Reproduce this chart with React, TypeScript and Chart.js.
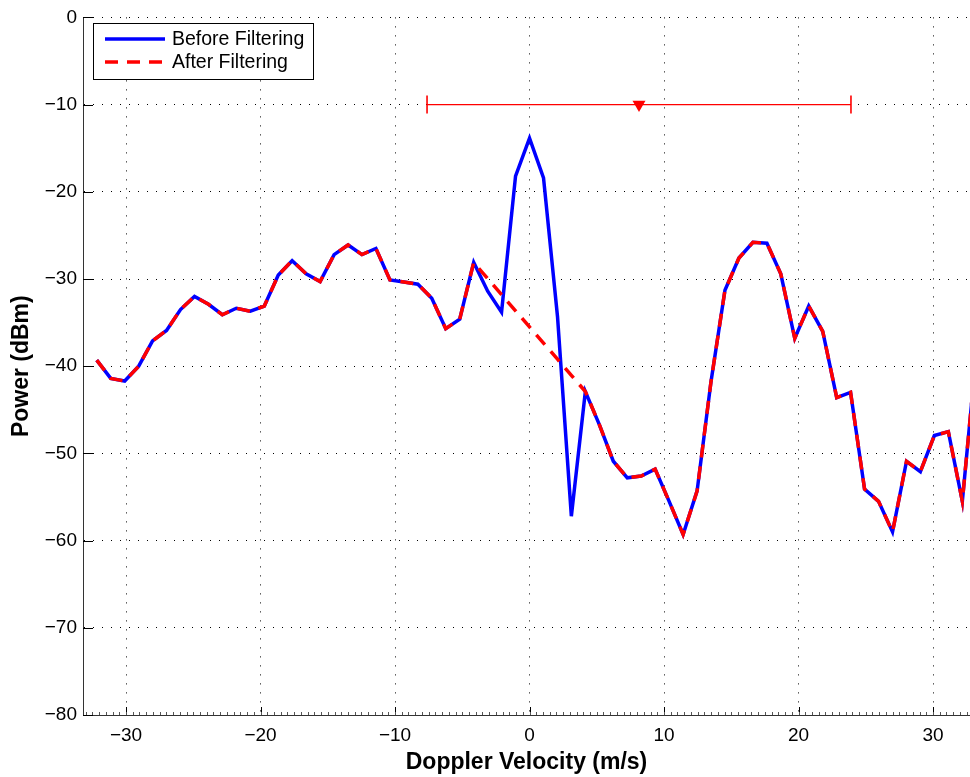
import { useEffect, useRef } from 'react';
import { Chart, registerables } from 'chart.js';

Chart.register(...registerables);

// Doppler velocity bins (m/s)
const velocities = [
  -32.18, -31.14, -30.10, -29.06, -28.03, -26.99, -25.95, -24.91, -23.87, -22.84,
  -21.80, -20.76, -19.72, -18.68, -17.65, -16.61, -15.57, -14.53, -13.49, -12.46,
  -11.42, -10.38, -9.34, -8.30, -7.27, -6.23, -5.19, -4.15, -3.11, -2.08,
  -1.04, 0, 1.04, 2.08, 3.11, 4.15, 5.19, 6.23, 7.27, 8.30,
  9.34, 10.38, 11.42, 12.46, 13.49, 14.53, 15.57, 16.61, 17.65, 18.68,
  19.72, 20.76, 21.80, 22.84, 23.87, 24.91, 25.95, 26.99, 28.03, 29.06,
  30.10, 31.14, 32.18, 33.22,
];

// Power before filtering (dBm)
const powerBefore = [
  -39.3, -41.4, -41.7, -40.0, -37.1, -35.9, -33.5, -32.0, -32.9, -34.1,
  -33.35, -33.7, -33.1, -29.55, -27.9, -29.4, -30.3, -27.2, -26.1, -27.2,
  -26.5, -30.1, -30.35, -30.6, -32.2, -35.7, -34.6, -28.1, -31.4, -33.8,
  -18.2, -13.85, -18.4, -34.3, -57.2, -42.9, -46.7, -50.9, -52.8, -52.6,
  -51.8, -55.5, -59.3, -54.3, -41.8, -31.3, -27.6, -25.8, -25.9, -29.4,
  -36.8, -33.1, -36.0, -43.6, -43.0, -54.1, -55.5, -59.0, -50.9, -52.1,
  -47.95, -47.5, -55.5, -38.5,
];

// Power after filtering (dBm)
const powerAfter = [
  -39.3, -41.4, -41.7, -40.0, -37.1, -35.9, -33.5, -32.0, -32.9, -34.1,
  -33.35, -33.7, -33.1, -29.55, -27.9, -29.4, -30.3, -27.2, -26.1, -27.2,
  -26.5, -30.1, -30.35, -30.6, -32.2, -35.7, -34.6, -28.1, -29.95, -31.8,
  -33.65, -35.5, -37.35, -39.2, -41.05, -42.9, -46.7, -50.9, -52.8, -52.6,
  -51.8, -55.5, -59.3, -54.3, -41.8, -31.3, -27.6, -25.8, -25.9, -29.4,
  -36.8, -33.1, -36.0, -43.6, -43.0, -54.1, -55.5, -59.0, -50.9, -52.1,
  -47.95, -47.5, -55.5, -38.5,
];

const seriesLabels = ['Before Filtering', 'After Filtering'];
const seriesColors = ['#0000ff', '#ff0000'];

// Horizontal range bar with mean marker
const rangeX = [-7.62, 23.9];
const rangeY = [-10, -10];
const meanX = [8.14];
const meanY = [-10];

const xTicks = [-30, -20, -10, 0, 10, 20, 30];
const yTicks = [0, -10, -20, -30, -40, -50, -60, -70, -80];
const xMinorStep = 0.5;

const FONT = '"Liberation Sans", Arial, Helvetica, sans-serif';

const fmt = (v: number) => (v < 0 ? '\u2212' + Math.abs(v) : String(v));

const axisTicksPlugin = {
  id: 'axisTicks',
  afterDraw(chart: any) {
    const { ctx, chartArea } = chart;
    const xs = chart.scales.x;
    const ys = chart.scales.y;
    ctx.save();
    ctx.strokeStyle = '#000';
    ctx.lineWidth = 1;
    ctx.beginPath();
    for (const v of yTicks) {
      const py = Math.round(ys.getPixelForValue(v)) + 0.5;
      ctx.moveTo(chartArea.left, py);
      ctx.lineTo(chartArea.left + 10, py);
    }
    for (const v of xTicks) {
      const px = Math.round(xs.getPixelForValue(v)) + 0.5;
      ctx.moveTo(px, chartArea.bottom);
      ctx.lineTo(px, chartArea.bottom - 8);
    }
    ctx.stroke();
    ctx.strokeStyle = '#555';
    ctx.beginPath();
    const start = Math.ceil(xs.min / xMinorStep) * xMinorStep;
    for (let v = start; v <= xs.max; v += xMinorStep) {
      const px = Math.round(xs.getPixelForValue(v)) + 0.5;
      ctx.moveTo(px, chartArea.bottom);
      ctx.lineTo(px, chartArea.bottom - 3);
    }
    ctx.stroke();
    ctx.restore();
  },
};

const boxLegendPlugin = {
  id: 'boxLegend',
  afterDraw(chart: any) {
    const { ctx } = chart;
    const left = 93.5;
    const top = 23.5;
    const w = 220;
    const h = 56;
    ctx.save();
    ctx.fillStyle = '#fff';
    ctx.fillRect(left, top, w, h);
    ctx.strokeStyle = '#000';
    ctx.lineWidth = 1;
    ctx.strokeRect(left, top, w, h);
    const rows = [39, 62];
    seriesLabels.forEach((label, i) => {
      const ds = chart.data.datasets[i];
      ctx.strokeStyle = seriesColors[i];
      ctx.lineWidth = ds.borderWidth;
      ctx.setLineDash(ds.borderDash || []);
      ctx.beginPath();
      ctx.moveTo(105, rows[i]);
      ctx.lineTo(165, rows[i]);
      ctx.stroke();
      ctx.setLineDash([]);
      ctx.fillStyle = '#000';
      ctx.font = `19.5px ${FONT}`;
      ctx.textAlign = 'left';
      ctx.textBaseline = 'middle';
      ctx.fillText(label, 172, rows[i] + 1);
    });
    ctx.restore();
  },
};

export default function App() {
  const canvasRef = useRef<HTMLCanvasElement | null>(null);

  useEffect(() => {
    if (!canvasRef.current) return;
    const chart = new Chart(canvasRef.current, {
      type: 'line',
      data: {
        datasets: [
          {
            label: seriesLabels[0],
            data: velocities.map((x, i) => ({ x, y: powerBefore[i] })),
            borderColor: seriesColors[0],
            borderWidth: 3.5,
            pointRadius: 0,
            tension: 0,
            order: 3,
          },
          {
            label: seriesLabels[1],
            data: velocities.map((x, i) => ({ x, y: powerAfter[i] })),
            borderColor: seriesColors[1],
            borderWidth: 3.5,
            borderDash: [13, 9],
            pointRadius: 0,
            tension: 0,
            order: 2,
          },
          {
            label: 'range',
            data: rangeX.map((x, i) => ({ x, y: rangeY[i] })),
            borderColor: '#ff0000',
            borderWidth: 1.2,
            pointStyle: 'line',
            pointRotation: 90,
            pointRadius: 9,
            pointBorderWidth: 1.6,
            pointBorderColor: '#ff0000',
            order: 1,
          },
          {
            label: 'mean',
            data: meanX.map((x, i) => ({ x, y: meanY[i] })),
            showLine: false,
            pointStyle: 'triangle',
            pointRotation: 180,
            pointRadius: 7.5,
            pointBackgroundColor: '#ff0000',
            pointBorderColor: '#ff0000',
            pointBorderWidth: 0,
            order: 0,
          },
        ] as any,
      },
      options: {
        animation: false,
        responsive: false,
        devicePixelRatio: 1,
        events: [],
        layout: { autoPadding: false, padding: { top: 13.5, right: 0, left: 0, bottom: 0 } },
        plugins: {
          legend: { display: false },
          tooltip: { enabled: false },
        },
        scales: {
          x: {
            type: 'linear',
            min: -33.2,
            max: 32.75,
            afterBuildTicks: (s: any) => {
              s.ticks = xTicks.map((v) => ({ value: v }));
            },
            afterFit: (s: any) => {
              s.height = 62;
            },
            ticks: {
              autoSkip: false,
              maxRotation: 0,
              padding: 9,
              color: '#000',
              font: { family: FONT, size: 19 },
              callback: (v: any) => fmt(Number(v)),
            },
            grid: { color: '#000', lineWidth: 1, drawTicks: false },
            border: { display: true, color: '#333', width: 1, dash: [1, 8] },
            title: {
              display: true,
              text: 'Doppler Velocity (m/s)',
              color: '#000',
              font: { family: FONT, size: 23, weight: 'bold' },
              padding: { top: 0, bottom: 1 },
            },
          },
          y: {
            type: 'linear',
            min: -80,
            max: 0,
            afterBuildTicks: (s: any) => {
              s.ticks = yTicks.map((v) => ({ value: v }));
            },
            afterFit: (s: any) => {
              s.width = 83;
            },
            ticks: {
              autoSkip: false,
              padding: 6,
              color: '#000',
              font: { family: FONT, size: 19 },
              callback: (v: any) => fmt(Number(v)),
            },
            grid: { color: '#000', lineWidth: 1, drawTicks: false },
            border: { display: true, color: '#333', width: 1, dash: [1, 8] },
            title: {
              display: true,
              text: 'Power (dBm)',
              color: '#000',
              font: { family: FONT, size: 23, weight: 'bold' },
              padding: { top: 8, bottom: 0 },
            },
          },
        },
      } as any,
      plugins: [axisTicksPlugin, boxLegendPlugin],
    });
    return () => chart.destroy();
  }, []);

  return (
    <div style={{ position: 'fixed', left: 0, top: 0, width: 970, height: 777, background: '#fff' }}>
      <canvas ref={canvasRef} width={970} height={777} style={{ display: 'block' }} />
    </div>
  );
}
